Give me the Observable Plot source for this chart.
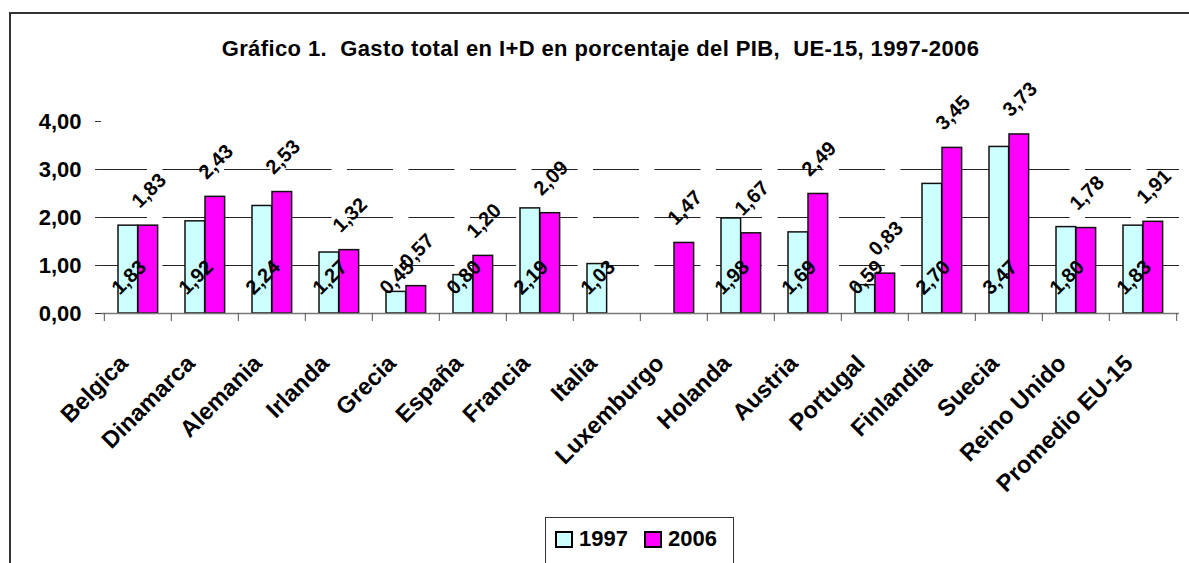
<!DOCTYPE html>
<html><head><meta charset="utf-8">
<script src="https://cdn.jsdelivr.net/npm/d3@7"></script>
<script src="https://cdn.jsdelivr.net/npm/@observablehq/plot@0.6"></script>
<style>
body{margin:0;background:#fff;font-family:"Liberation Sans",Arial,sans-serif;}
#wrap{position:relative;width:1189px;height:563px;overflow:hidden;background:#fff;}
#border{position:absolute;left:9px;top:12px;width:1200px;height:600px;border-left:2px solid #333;border-top:2px solid #333;}
#title{position:absolute;top:36px;left:6px;width:1189px;text-align:center;font-weight:bold;font-size:22px;letter-spacing:0.4px;line-height:25px;color:#000;}
#chart{position:absolute;left:0;top:0;}
#legend{position:absolute;left:545px;top:517px;width:189px;height:60px;border:1px solid #333;background:#fff;display:flex;align-items:center;box-sizing:border-box;padding:0 0 16px 9px;}
#legend .sw{display:inline-block;width:14px;height:13px;border:2px solid #000;margin-right:6px;}
#legend .lb{font-weight:bold;font-size:22px;margin-right:16px;color:#000;}
</style></head><body>
<div id="wrap">
  <div id="border"></div>
  <div id="title">Gráfico 1.&nbsp; Gasto total en I+D en porcentaje del PIB,&nbsp; UE-15, 1997-2006</div>
  <div id="chart"></div>
  <div id="legend"></div>
</div>
<script>
const categories = ["Belgica","Dinamarca","Alemania","Irlanda","Grecia","España","Francia","Italia","Luxemburgo","Holanda","Austria","Portugal","Finlandia","Suecia","Reino Unido","Promedio EU-15"];
const values1997 = [1.83,1.92,2.24,1.27,0.45,0.80,2.19,1.03,null,1.98,1.69,0.59,2.70,3.47,1.80,1.83];
const values2006 = [1.83,2.43,2.53,1.32,0.57,1.20,2.09,null,1.47,1.67,2.49,0.83,3.45,3.73,1.78,1.91];
const series = ["1997","2006"];
const seriesColors = ["#CCFFFF","#FF00FF"];
const yTicks = [0,1,2,3,4];
const gridValues = [1,2,3];

const fmt = v => d3.format(".2f")(v).replace(".", ",");
const W = 1189, H = 563, mL = 101, mR = 10, mT = 121, mB = 250;
const bw = (W - mL - mR) / categories.length;

const rows97 = categories.map((c,i)=>({cat:c, v:values1997[i]})).filter(d=>d.v!=null);
const rows06 = categories.map((c,i)=>({cat:c, v:values2006[i]})).filter(d=>d.v!=null);

const font = {fontWeight:"bold", fill:"#000"};
const chart = Plot.plot({
  width: W, height: H, marginTop: mT, marginBottom: mB, marginLeft: mL, marginRight: mR,
  x: {domain: categories, padding: 0, axis: null},
  y: {domain: [0,4], axis: null},
  style: {fontFamily: "'Liberation Sans', Arial, sans-serif", background: "transparent", color:"#000"},
  marks: [
    Plot.ruleY(gridValues, {stroke:"#222", strokeWidth:1, strokeDasharray:"46,15.5"}),
    Plot.barY(rows97, {x:"cat", y:"v", fill:seriesColors[0], stroke:"#111", strokeWidth:1.5, insetLeft:14, insetRight:bw-34}),
    Plot.barY(rows06, {x:"cat", y:"v", fill:seriesColors[1], stroke:"#111", strokeWidth:1.5, insetLeft:34, insetRight:bw-54}),
    Plot.ruleY([0], {stroke:"#777", strokeWidth:1.5}),
    Plot.axisY({ticks: yTicks, label: null, tickSize:6, tickPadding:14, tickFormat: fmt, fontSize:22, fontWeight:"bold", stroke:"#333", line:true}),
    Plot.axisX({tickSize:8, label: null, tickFormat:()=>"", dx:-bw/2, stroke:"#555"}),
    Plot.axisX({ticks:[categories[categories.length-1]], label: null, tickSize:8, tickFormat:()=>"", dx:bw/2, stroke:"#555"}),
    Plot.text(categories, {x: d=>d, y: 0, text: d=>d, dx:-14, dy:46, rotate:-45, textAnchor:"end", lineAnchor:"middle", fontSize:23.5, ...font}),
    Plot.text(rows97, {x:"cat", y:0, text: d=>fmt(d.v), dx:-9, dy:-36, rotate:-45, fontSize:20, ...font}),
    Plot.text(rows06, {x:"cat", y:"v", text: d=>fmt(d.v), dx:11, dy:-35, rotate:-45, fontSize:20, ...font})
  ]
});
document.getElementById("chart").appendChild(chart);

const lg = document.getElementById("legend");
series.forEach((s,i)=>{
  const sw = document.createElement("span"); sw.className="sw"; sw.style.background=seriesColors[i];
  const lb = document.createElement("span"); lb.className="lb"; lb.textContent=s;
  lg.appendChild(sw); lg.appendChild(lb);
});
</script>
</body></html>
